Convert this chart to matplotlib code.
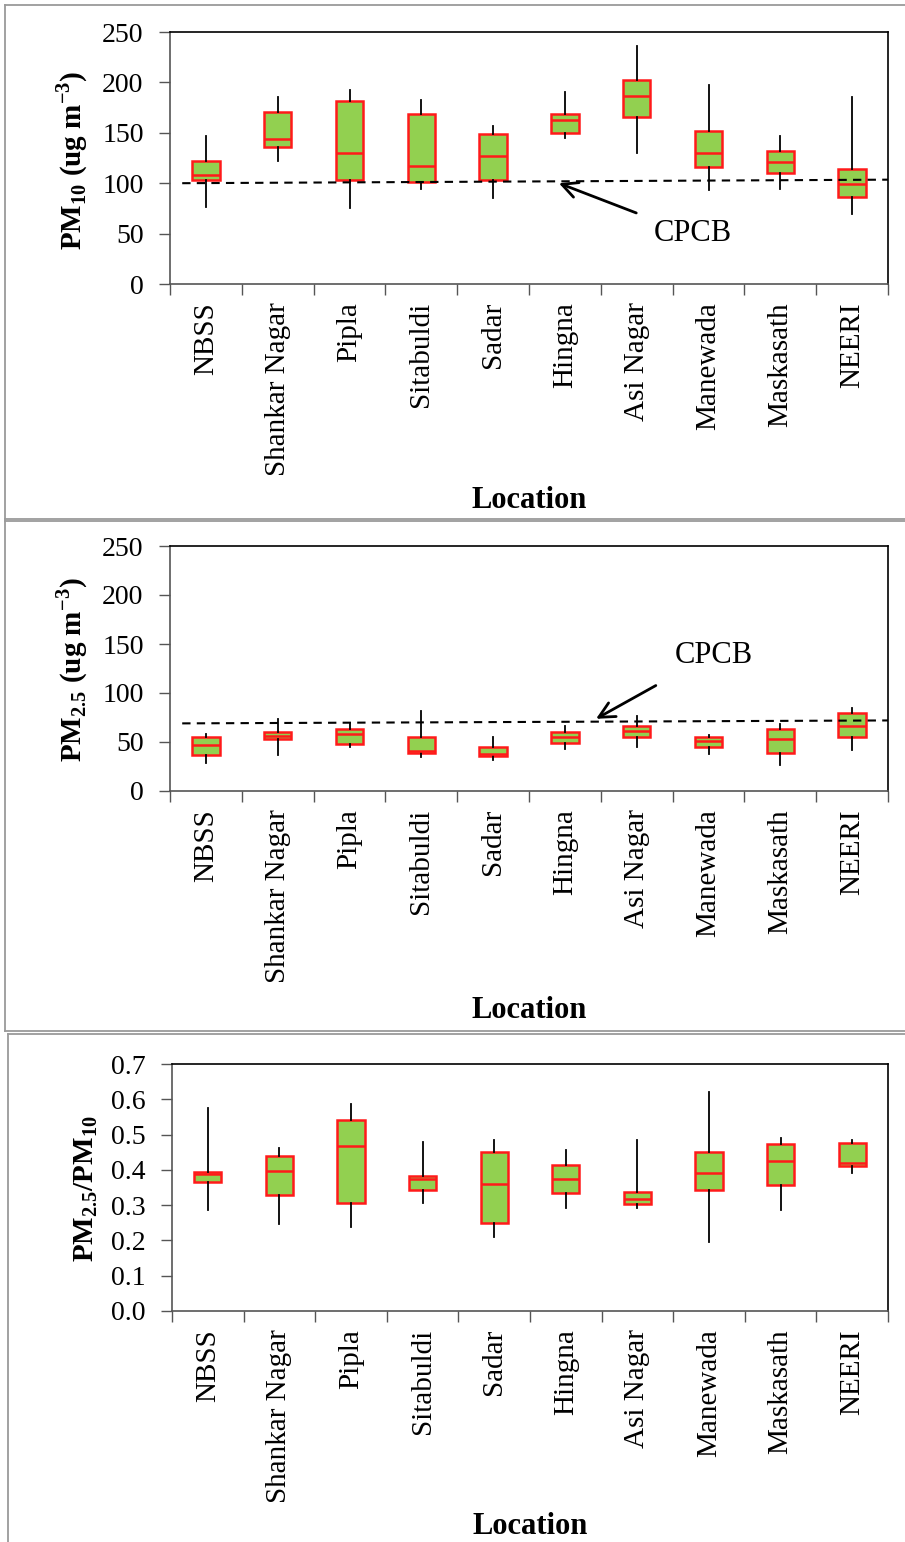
import matplotlib
matplotlib.use("Agg")
import matplotlib.pyplot as plt
import numpy as np
from matplotlib.ticker import FormatStrFormatter

plt.rcParams['font.family'] = 'Liberation Serif'
plt.rcParams['mathtext.fontset'] = 'custom'
plt.rcParams['mathtext.rm'] = 'Liberation Serif'
plt.rcParams['mathtext.bf'] = 'Liberation Serif:bold'

locations = ['NBSS', 'Shankar Nagar', 'Pipla', 'Sitabuldi', 'Sadar',
             'Hingna', 'Asi Nagar', 'Manewada', 'Maskasath', 'NEERI']

# PM10 (ug m-3): whisker low, Q1, median, Q3, whisker high
pm10_lo = [76.5, 122.5, 75, 94, 85, 145, 130, 93, 94, 69]
pm10_q1 = [103, 136, 103, 101, 103, 150, 166, 115.6, 110, 86.8]
pm10_med = [108, 144, 130, 117, 127, 163, 187, 130, 121.5, 99.7]
pm10_q3 = [122, 171, 182, 169, 148.7, 169, 202, 152, 131.5, 113.6]
pm10_hi = [147, 186, 192, 182.5, 157, 190, 236, 197, 147, 186]
cpcb_pm10 = [100, 103.5]

# PM2.5 (ug m-3)
pm25_lo = [28.6, 36.5, 44.6, 34.7, 32.1, 42.9, 44.6, 38.2, 27, 41.6]
pm25_q1 = [37.2, 52.8, 48.4, 38.5, 35.5, 48.7, 54.9, 45.4, 38.8, 54.9]
pm25_med = [46.7, 56.2, 58.6, 41.3, 38.2, 55.2, 61.7, 50.8, 53.5, 66.4]
pm25_q3 = [55.2, 60.3, 63, 54.9, 45.4, 60.3, 66.4, 55.2, 63, 79.7]
pm25_hi = [58.6, 73, 68.9, 81.7, 55.2, 66.4, 76.3, 56.9, 68.2, 84.8]
cpcb_pm25 = [69, 72]

# PM2.5/PM10 ratio
ratio_lo = [0.286, 0.246, 0.237, 0.305, 0.21, 0.291, 0.291, 0.196, 0.286, 0.39]
ratio_q1 = [0.365, 0.33, 0.307, 0.342, 0.248, 0.334, 0.302, 0.342, 0.356, 0.41]
ratio_med = [0.388, 0.397, 0.469, 0.374, 0.361, 0.375, 0.317, 0.392, 0.424, 0.42]
ratio_q3 = [0.393, 0.438, 0.542, 0.384, 0.45, 0.415, 0.338, 0.45, 0.473, 0.477]
ratio_hi = [0.574, 0.461, 0.588, 0.479, 0.484, 0.457, 0.484, 0.62, 0.489, 0.484]

W, H = 905, 1542
fig = plt.figure(figsize=(W / 100, H / 100), dpi=100)

# grey frames around each panel
def hline(x0, x1, y):
    fig.add_artist(plt.Line2D([x0 / W, x1 / W], [1 - y / H, 1 - y / H],
                              color='#9a9a9a', lw=1.3))

def vline(x, y0, y1):
    fig.add_artist(plt.Line2D([x / W, x / W], [1 - y0 / H, 1 - y1 / H],
                              color='#9a9a9a', lw=1.3))

hline(5, 905, 5); hline(5, 905, 519); vline(5, 5, 519)
hline(5, 905, 521); hline(5, 905, 1031); vline(5, 521, 1031)
hline(8, 905, 1034); vline(8, 1034, 1542)


def panel(rect, lo, q1, med, q3, hi, ylim, yticks, ylabel, label_xy, loc_y, fmt):
    ax = fig.add_axes([rect[0] / W, 1 - rect[3] / H,
                       (rect[2] - rect[0]) / W, (rect[3] - rect[1]) / H])
    stats = [dict(whislo=a, q1=b, med=c, q3=d, whishi=e, fliers=[])
             for a, b, c, d, e in zip(lo, q1, med, q3, hi)]
    ax.bxp(stats, positions=range(len(stats)), widths=0.38,
           showfliers=False, showcaps=False, patch_artist=True,
           boxprops=dict(facecolor='#92d050', edgecolor='#ff1a1a', linewidth=1.8),
           medianprops=dict(color='#ff1a1a', linewidth=1.8),
           whiskerprops=dict(color='black', linewidth=1.3))
    ax.set_xlim(-0.5, 9.5)
    ax.set_ylim(*ylim)
    ax.set_yticks(yticks)
    ax.yaxis.set_major_formatter(FormatStrFormatter(fmt))
    ax.set_xticks(range(len(locations)))
    ax.set_xticklabels(locations, rotation=90, fontsize=21)
    ax.set_xticks(np.arange(-0.5, 10, 1), minor=True)
    ax.tick_params(axis='x', which='major', length=0, pad=13)
    ax.tick_params(axis='x', which='minor', length=8, width=1, color='#555555')
    ax.tick_params(axis='y', length=8, width=1, labelsize=20, pad=11, color='#555555')
    for s in ax.spines.values():
        s.set_linewidth(1.2)
    ax.spines['left'].set_color('#555555')
    ax.spines['bottom'].set_color('#555555')
    fig.text(label_xy[0] / W, 1 - label_xy[1] / H, ylabel, rotation=90,
             fontsize=21, fontweight='bold', ha='center', va='center')
    fig.text((rect[0] + rect[2]) / 2 / W, 1 - loc_y / H, 'Location',
             fontsize=22, fontweight='bold', ha='center', va='center')
    return ax


ax1 = panel((170, 32, 888, 284), pm10_lo, pm10_q1, pm10_med, pm10_q3, pm10_hi,
            (0, 250), range(0, 251, 50), r'PM$_{\mathbf{10}}$ (ug m$^{\mathbf{-3}}$)',
            (72, 160), 500, '%d')
ax1.plot([-0.33, 9.5], cpcb_pm10, color='black', ls='--', dashes=(4, 3), lw=1.5)
ax1.annotate('', xy=(4.88, 101), xytext=(6.03, 69.5),
             arrowprops=dict(arrowstyle='->', lw=2, color='black', mutation_scale=28))
ax1.text(6.78, 50.4, 'CPCB', fontsize=22, ha='center', va='center')

ax2 = panel((170, 546, 888, 791), pm25_lo, pm25_q1, pm25_med, pm25_q3, pm25_hi,
            (0, 250), range(0, 251, 50), r'PM$_{\mathbf{2.5}}$ (ug m$^{\mathbf{-3}}$)',
            (72, 670), 1010, '%d')
ax2.plot([-0.33, 9.5], cpcb_pm25, color='black', ls='--', dashes=(4, 3), lw=1.5)
ax2.annotate('', xy=(5.4, 72.3), xytext=(6.3, 109),
             arrowprops=dict(arrowstyle='->', lw=2, color='black', mutation_scale=28))
ax2.text(7.08, 138.6, 'CPCB', fontsize=22, ha='center', va='center')

ax3 = panel((172, 1064, 888, 1311), ratio_lo, ratio_q1, ratio_med, ratio_q3, ratio_hi,
            (0, 0.7), np.arange(0, 0.71, 0.1), r'PM$_{\mathbf{2.5}}$/PM$_{\mathbf{10}}$',
            (86, 1188), 1527, '%.1f')

fig.savefig('out.png', dpi=100)
